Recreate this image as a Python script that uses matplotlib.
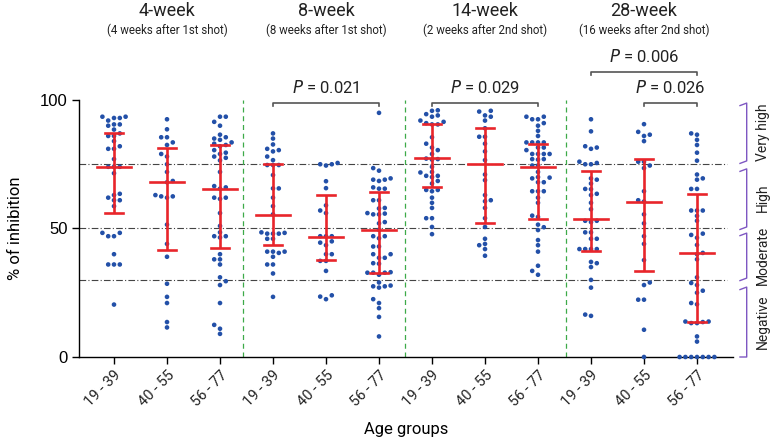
import numpy as np
import matplotlib
matplotlib.use("Agg")
import matplotlib.pyplot as plt

# ---------------- data ----------------
age_labels = ["19 - 39", "40 - 55", "56 - 77"] * 4
period_titles = ["4-week", "8-week", "14-week", "28-week"]
period_subtitles = ["(4 weeks after 1st shot)", "(8 weeks after 1st shot)",
                    "(2 weeks after 2nd shot)", "(16 weeks after 2nd shot)"]

w4_19_39 = [93.5, 93.5, 93, 93, 92, 90.5, 90.5, 90, 88.5, 87, 86, 86, 84, 82, 81, 81, 77, 74, 74, 74,
            71.5, 63.5, 63, 62, 61, 61, 58.7, 48.3, 48.3, 47, 47, 40, 36, 36, 36, 20.4]
w4_40_55 = [92.5, 88.6, 85.5, 85.5, 83.5, 82.5, 79, 78, 75, 72, 68, 68.5, 63, 62.5, 62, 62.5,
            51.5, 44, 39, 28.5, 23.4, 21, 13.6, 11.5]
w4_56_77 = [93.5, 93.5, 91.5, 90, 86.5, 85.5, 84.5, 85, 83.5, 83, 82.5, 82, 80.5, 79.5, 79, 78,
            77.5, 76.5, 72, 66.5, 66, 65.5, 62, 62, 61.5, 56, 51, 48.5, 47, 47, 46.5, 40, 38, 38,
            36, 31, 29.5, 28, 21, 12.5, 11, 9]
w8_19_39 = [87, 85, 82.7, 81, 80.5, 80, 78, 76.6, 74.7, 74.7, 74.7, 70.8, 65.6, 65.6, 62, 58.7,
            55.5, 48.5, 48, 48, 48, 48.3, 46, 46, 41, 41, 41, 40.5, 39, 36, 36, 32.5, 23.4]
w8_40_55 = [75.5, 75, 75, 74.5, 68.4, 65.7, 59, 57, 56, 47, 47, 47, 45, 44.5, 43.5, 40, 40,
            37.4, 37.4, 33.5, 24, 22.5, 23.5]
w8_56_77 = [95, 73.5, 72.5, 69.5, 69, 69, 68.5, 66, 65.5, 65.5, 61, 61, 58, 57.8, 56, 55.5, 55.5,
            55.8, 52, 52.5, 49.5, 47, 47, 46.2, 43, 43, 40, 40, 38.6, 38.6, 36.5, 36.3, 33, 32.8,
            32.8, 32.8, 32, 29, 27.5, 27.5, 27.8, 27, 22.5, 21, 19, 15.6, 8]
w14_19_39 = [96, 95.8, 94.5, 94, 93.5, 92, 91.5, 91, 90.5, 90.5, 85.5, 83, 81.5, 80.5, 79, 77.2,
             77, 76.8, 74, 72, 71.8, 70.5, 70.5, 70, 68.5, 67.5, 65, 65, 64.5, 62, 60, 58, 54, 54,
             50.6, 47.8]
w14_40_55 = [95.8, 95.5, 94, 93.5, 92, 89, 85.7, 85.7, 83, 80, 76.6, 71, 68.8, 63, 61, 60.6, 58,
             54, 50.6, 46, 44, 42, 43.5, 39.4]
w14_56_77 = [93.5, 93.5, 92.5, 92.5, 91, 90, 88, 86, 83.5, 83.5, 83.5, 83.5, 81.5, 81.5, 80.5,
             79, 79, 79, 79, 77, 77, 76.8, 74.5, 74.5, 72, 70, 69.8, 69.5, 68, 68, 64.5, 64.5,
             64.5, 62, 60, 54.5, 55, 51.5, 50.5, 49.4, 45.5, 43.5, 41, 35.5, 33.5, 32]
w28_19_39 = [92.5, 87.8, 82, 81.5, 81, 76, 75, 75, 75.5, 69.5, 69, 67.5, 65.4, 65.3, 63, 63.5, 60,
             57.5, 53, 52.5, 53, 48.5, 48.5, 46, 46, 42, 42, 42, 42, 37, 35, 36.5, 30, 27, 16, 16.5]
w28_40_55 = [90.6, 87.6, 86.5, 86, 84, 76, 76, 74.5, 73.5, 64.5, 61, 60.5, 55.5, 52, 47, 44, 37.7,
             28, 29, 22.3, 22.3, 10.6, 0]
w28_56_77 = [87, 86.5, 84.5, 82.5, 79.5, 76.4, 71, 69.5, 69, 65.4, 65.4, 57, 57, 57, 54.9, 53, 48,
             47.5, 46.4, 43.6, 40.5, 40, 38, 31, 28.8, 28, 25.8, 25, 21, 20.5, 13.8, 13.8, 13.2,
             13.2, 13.6, 8, 6, 0, 0, 0, 0, 0, 0, 0]

groups = [w4_19_39, w4_40_55, w4_56_77, w8_19_39, w8_40_55, w8_56_77,
          w14_19_39, w14_40_55, w14_56_77, w28_19_39, w28_40_55, w28_56_77]

bar_center = [74, 68, 65.5, 55.2, 46.8, 49.4, 77.3, 75, 73.8, 53.6, 60.4, 40.3]
bar_high = [87, 81.5, 82.5, 75, 62.9, 64.3, 90.6, 89, 83, 72.3, 76.9, 63.3]
bar_low = [56, 41.6, 42.6, 43.6, 37.9, 32.7, 66, 52, 53.8, 41.3, 33.4, 13.6]

# significance comparisons: (group i, group j, label, tier)
comparisons = [(3, 5, "0.021", 0), (6, 8, "0.029", 0), (10, 11, "0.026", 0), (9, 11, "0.006", 1)]

level_lines = [75, 50, 30]
levels = [("Very high", 98.8, 76.3), ("High", 73.2, 50.6),
          ("Moderate", 48.2, 30.7), ("Negative", 27.2, 0.0)]

# ---------------- figure ----------------
W, H = 772, 444
fig = plt.figure(figsize=(W / 100, H / 100), dpi=100)
ax_left, ax_right, ax_bot, ax_top = 79, 733, 357, 100
ax = fig.add_axes([ax_left / W, 1 - ax_bot / H, (ax_right - ax_left) / W, (ax_bot - ax_top) / H])

x0, dx = 114, 53.0  # pixel position of first group and spacing
xlim = ((ax_left - x0) / dx, (ax_right - x0) / dx)
ax.set_xlim(*xlim)
ax.set_ylim(0, 100)

px_per_x = dx
px_per_y = (ax_bot - ax_top) / 100.0

BLUE = "#2350A8"
RED = "#E8252B"
GREEN = "#3DAA48"
GRAY = "#444444"
PURPLE = "#7E57C2"
FONT = ["Roboto", "DejaVu Sans"]


def swarm_offsets(vals, step=5.8, dmin=4.8):
    placed = []
    offs = np.zeros(len(vals))
    order = np.argsort(vals)
    last = 1
    for i in order:
        y = vals[i] * px_per_y
        chosen = None
        for m in range(0, 14):
            cands = [0.0] if m == 0 else [last * -m * step, last * m * step]
            for x in cands:
                if all((x - px) ** 2 + (y - py) ** 2 >= dmin ** 2 for px, py in placed):
                    chosen = x
                    break
            if chosen is not None:
                break
        if chosen != 0:
            last = 1 if chosen > 0 else -1
        placed.append((chosen, y))
        offs[i] = chosen / px_per_x
    return offs


# level reference lines
for lv in level_lines:
    ax.plot([xlim[0], (727 - x0) / dx], [lv, lv], color=GRAY, lw=0.8,
            linestyle=(0, (6, 2, 1, 2)), zorder=1)

# period dividers
for xd in [2.44, 5.49, 8.53]:
    ax.plot([xd, xd], [0, 100], color=GREEN, lw=0.9, linestyle=(0, (4, 3)), zorder=1)

# points
for i, vals in enumerate(groups):
    v = np.array(vals, dtype=float)
    xs = i + swarm_offsets(v)
    ax.scatter(xs, v, s=11, color=BLUE, edgecolors="none", zorder=3, clip_on=False)

# red bars
for i in range(len(groups)):
    ax.plot([i, i], [bar_low[i], bar_high[i]], color=RED, lw=1.9, zorder=4, solid_capstyle="butt")
    ax.plot([i - 0.17, i + 0.17], [bar_low[i]] * 2, color=RED, lw=1.9, zorder=4)
    ax.plot([i - 0.17, i + 0.17], [bar_high[i]] * 2, color=RED, lw=1.9, zorder=4)
    ax.plot([i - 0.33, i + 0.33], [bar_center[i]] * 2, color=RED, lw=1.9, zorder=4)

# significance brackets
tick_h = 3.0 / px_per_y
for a, b, lab, tier in comparisons:
    yb = (ax_bot - (102.7 if tier == 0 else 72.0)) / px_per_y
    ax.plot([a, a, b, b], [yb - tick_h, yb, yb, yb - tick_h], color="#555555", lw=1.2,
            clip_on=False, zorder=5)
    ax.text((a + b) / 2, yb + 6.0, r"$\it{P}$ = " + lab, ha="center", va="center",
            fontsize=12, family=FONT, color="#222222", clip_on=False)

# titles
for k in range(4):
    xc = 3 * k + 1
    ax.text(xc, (ax_bot - 11) / px_per_y, period_titles[k], ha="center", va="center",
            fontsize=13, family=FONT, color="#222222", clip_on=False)
    ax.text(xc, (ax_bot - 30.5) / px_per_y, period_subtitles[k], ha="center", va="center",
            fontsize=8.3, family=FONT, color="#222222", clip_on=False)

# right-side braces and labels
xb0, xb1 = (740 - x0) / dx, (746.7 - x0) / dx
hk = 2.5 / px_per_y
for name, top, bot in levels:
    ax.plot([xb0, xb1, xb1, xb0], [top - hk, top, bot, bot - hk] if bot > 0 else
            [top - hk, top, bot, bot], color=PURPLE, lw=1.0, clip_on=False)
    ax.text((763 - x0) / dx, (top + bot) / 2, name, rotation=90, ha="center", va="center",
            fontsize=10, family=FONT, color="#222222", clip_on=False)

# axes styling
for s in ["top", "right"]:
    ax.spines[s].set_visible(False)
ax.spines["left"].set_linewidth(1.0)
ax.spines["bottom"].set_linewidth(1.0)
ax.set_yticks([0, 50, 100])
ax.set_yticklabels(["0", "50", "100"], fontsize=12, family=["Liberation Sans", "DejaVu Sans"])
ax.set_xticks(range(12))
ax.set_xticklabels(age_labels, rotation=45, ha="right", rotation_mode="anchor",
                   fontsize=10.5, family=FONT, color="#222222")
ax.tick_params(axis="both", direction="out", length=5, width=1.0, pad=3)
ax.set_ylabel("% of inhibition", fontsize=12, family=FONT, labelpad=12)
ax.set_xlabel("Age groups", fontsize=12, family=FONT, labelpad=9)

fig.savefig("out.png", dpi=100)
